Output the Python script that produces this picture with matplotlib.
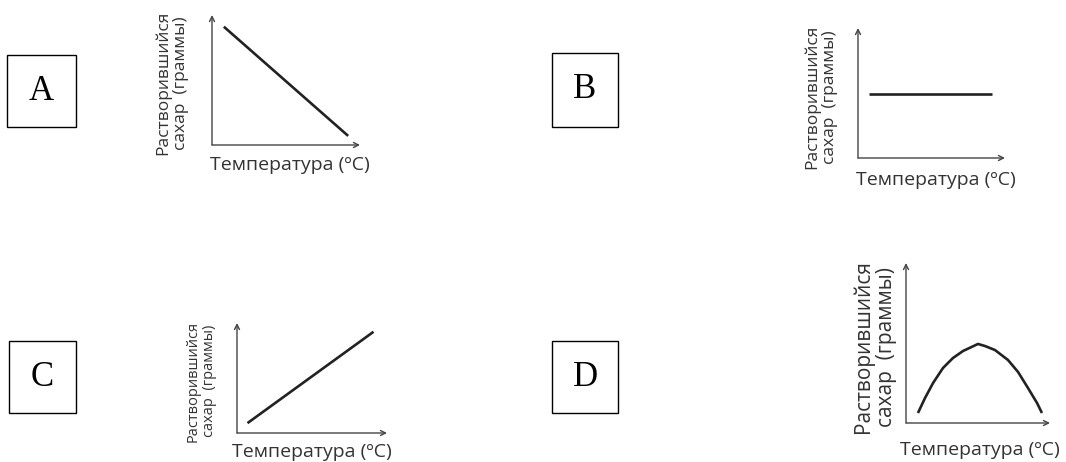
import matplotlib
matplotlib.use("Agg")
import matplotlib.pyplot as plt
from matplotlib.patches import Rectangle

W, H = 1066, 462

# panel labels and axis captions
letters = ["A", "B", "C", "D"]
ylabel = "Растворившийся\nсахар  (граммы)"
xlabel = "Температура (ºC)"

# curve points, as fraction of the axis length (0 = origin, 1 = arrow tip)
a_x = [0.08, 0.92]
a_y = [0.91, 0.07]
b_x = [0.075, 0.91]
b_y = [0.49, 0.49]
c_x = [0.07, 0.91]
c_y = [0.09, 0.92]
d_x = [0.083, 0.132, 0.188, 0.257, 0.326, 0.396, 0.50, 0.549, 0.618, 0.708, 0.778, 0.847, 0.910, 0.944]
d_y = [0.0625, 0.156, 0.25, 0.344, 0.406, 0.45, 0.494, 0.481, 0.456, 0.394, 0.319, 0.219, 0.125, 0.0625]

# layout in pixels (x, y from top-left of the image)
boxes = [(7, 55, 69, 72), (552, 53, 66, 74), (9, 341, 67, 72), (552, 341, 66, 72)]
axes_px = [(212, 145, 148, 130), (858, 158, 147, 130), (237, 433, 150, 110), (906, 423, 144, 160)]
xlab_px = [(290, 165), (936, 180), (312, 452), (980, 450)]
ylab_px = [(172, 83), (821, 97), (201, 381), (875, 347)]
ylab_size = [12.5, 12.5, 10.5, 15]

plt.rcParams['font.family'] = ['Open Sans', 'DejaVu Sans']


def fx(x):
    return x / W


def fy(y):
    return 1 - y / H


fig = plt.figure(figsize=(W / 100, H / 100), dpi=100)

for i, (bx, by, bw, bh) in enumerate(boxes):
    fig.patches.append(Rectangle((fx(bx), fy(by + bh)), bw / W, bh / H,
                                 transform=fig.transFigure, fill=False,
                                 edgecolor='black', lw=1.0))
    fig.text(fx(bx + bw / 2), fy(by + bh / 2), letters[i], ha='center', va='center',
             fontsize=25, family='Liberation Serif', color='black')

curves = [(a_x, a_y), (b_x, b_y), (c_x, c_y), (d_x, d_y)]
for i, (x0, y0, w, h) in enumerate(axes_px):
    ax = fig.add_axes([fx(x0), fy(y0), w / W, h / H])
    ax.set_xlim(0, 1)
    ax.set_ylim(0, 1)
    ax.axis('off')
    ax.annotate('', xy=(1, 0), xytext=(0, 0),
                arrowprops=dict(arrowstyle='->', lw=1.0, color='#444444',
                                shrinkA=0, shrinkB=0, mutation_scale=9))
    ax.annotate('', xy=(0, 1), xytext=(0, 0),
                arrowprops=dict(arrowstyle='->', lw=1.0, color='#444444',
                                shrinkA=0, shrinkB=0, mutation_scale=9))
    cx, cy = curves[i]
    ax.plot(cx, cy, color='#222222', lw=1.9, solid_capstyle='butt',
            solid_joinstyle='round', clip_on=False)

    tx, ty = xlab_px[i]
    fig.text(fx(tx), fy(ty), xlabel, ha='center', va='center', fontsize=14, color='#333333')
    lx, ly = ylab_px[i]
    fig.text(fx(lx), fy(ly), ylabel, ha='center', va='center', rotation=90,
             fontsize=ylab_size[i], color='#333333', linespacing=1.1, multialignment='center')

fig.savefig("out.png", dpi=100)
